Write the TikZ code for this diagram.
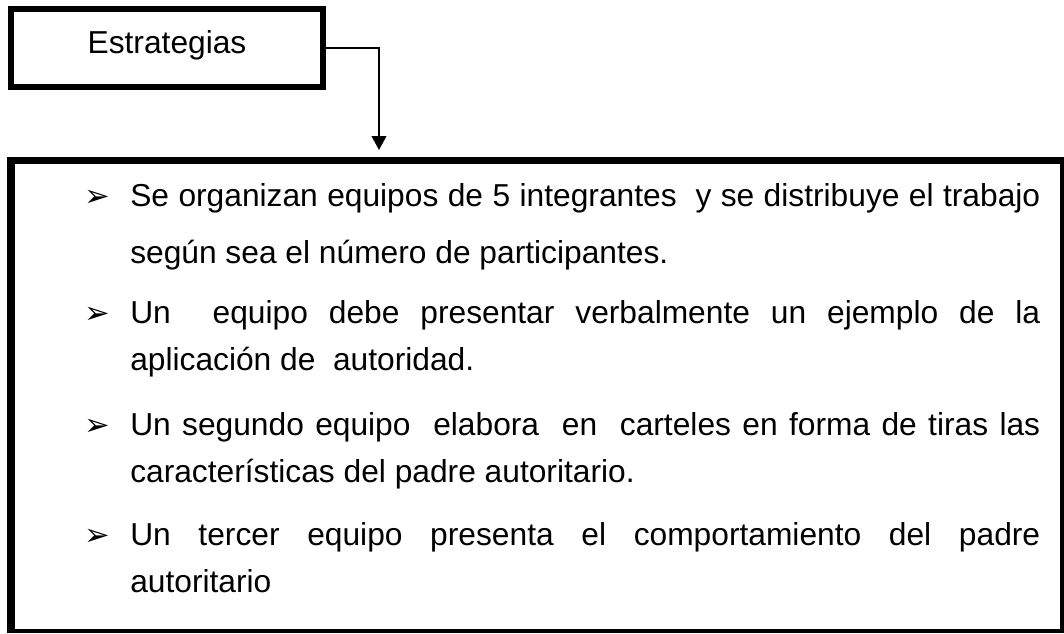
\documentclass[tikz,border=0pt]{standalone}
\usepackage{fontspec}
\setmainfont{Liberation Sans}
\newfontfamily\bulletfont{DejaVu Sans}
\usetikzlibrary{arrows.meta}

\begin{document}
\begin{tikzpicture}[x=0.75pt,y=-0.75pt,
  every node/.style={font=\fontsize{23.8}{35.25}\selectfont},
  parr/.style={anchor=base west,text width=682.5pt,align=justify,inner sep=0pt},
  bullet/.style={anchor=base west,inner sep=0pt,font=\bulletfont\fontsize{23}{23}\selectfont}]
\useasboundingbox (0,0) rectangle (1064,633);
\node[draw,line width=4.5pt,minimum width=234pt,minimum height=58.5pt,inner sep=0pt,text height=17pt,text depth=9.5pt] (estr) at (167,48) {Estrategias};
\node[draw,line width=3pt,minimum width=789.75pt,minimum height=354pt,inner sep=0pt] (box) at (535.5,395) {};
% heavier left and top side
\fill (7,157) rectangle (15,633);
\fill (7,157) rectangle (1064,164);
\coordinate (bend) at (379,48);
\draw[line width=1.5pt,-{Triangle[length=10.5pt,width=11pt]},shorten >=5.25pt] (estr.east) -- (bend) -- (bend |- box.north);

\node[bullet] (b1) at (84,206) {➢};
\node[parr,font=\fontsize{23.8}{42.75}\selectfont] (p1) at (130,206) {Se organizan equipos de 5 integrantes\ \ y se distribuye el trabajo\linebreak según sea el número de participantes.};
\node[bullet] (b2) at (84,323) {➢};
\node[parr] (p2) at (130,323) {Un\ \ equipo debe presentar verbalmente un ejemplo de la\linebreak aplicación de\ \ autoridad.};
\node[bullet] (b3) at (84,435) {➢};
\node[parr] (p3) at (130,435) {Un segundo equipo\ \ elabora\ \ en\ \ carteles en forma de tiras las\linebreak características del padre autoritario.};
\node[bullet] (b4) at (84,545) {➢};
\node[parr] (p4) at (130,545) {Un tercer equipo presenta el comportamiento del padre\linebreak autoritario};
\end{tikzpicture}
\end{document}
